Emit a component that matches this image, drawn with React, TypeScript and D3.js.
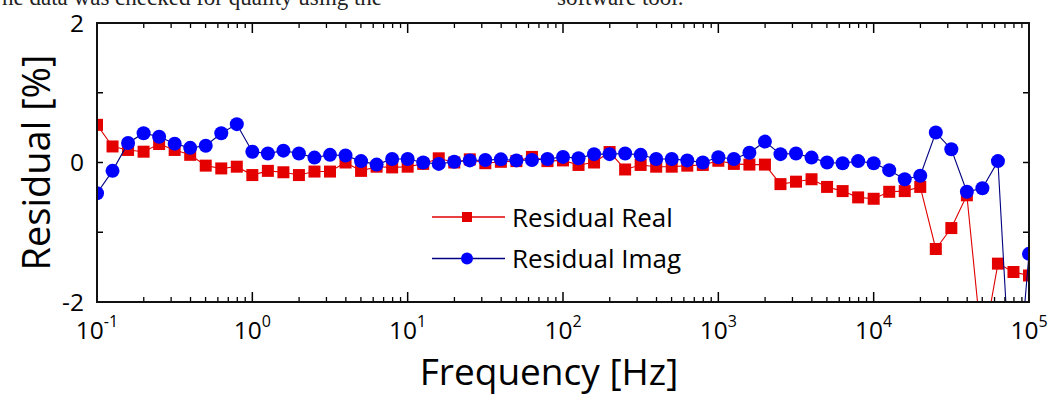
import React from "react";
import * as d3 from "d3";

const frequencies: number[] = [
  0.1, 0.1259, 0.1585, 0.1995, 0.2512, 0.3162, 0.3981, 0.5012, 0.631, 0.7943,
  1, 1.259, 1.585, 1.995, 2.512, 3.162, 3.981, 5.012, 6.31, 7.943,
  10, 12.59, 15.85, 19.95, 25.12, 31.62, 39.81, 50.12, 63.1, 79.43,
  100, 125.9, 158.5, 199.5, 251.2, 316.2, 398.1, 501.2, 631, 794.3,
  1000, 1259, 1585, 1995, 2512, 3162, 3981, 5012, 6310, 7943,
  10000, 12590, 15850, 19950, 25120, 31620, 39810, 50120, 63100, 79430,
  100000,
];

const residualReal: number[] = [
  0.54, 0.23, 0.18, 0.155, 0.265, 0.18, 0.11, -0.045, -0.085, -0.06,
  -0.18, -0.12, -0.14, -0.18, -0.13, -0.13, 0.0, -0.12, -0.06, -0.07,
  -0.06, -0.02, 0.06, 0.0, 0.045, -0.01, 0.01, 0.02, 0.08, 0.02,
  0.03, -0.035, 0.0, 0.15, -0.1, -0.035, -0.06, -0.06, -0.045, -0.035,
  0.025, -0.02, -0.03, -0.03, -0.31, -0.275, -0.24, -0.35, -0.41, -0.5,
  -0.52, -0.42, -0.41, -0.35, -1.24, -0.94, -0.47, -2.7, -1.45, -1.57,
  -1.62,
];

const residualImag: number[] = [
  -0.44, -0.12, 0.28, 0.42, 0.37, 0.27, 0.21, 0.24, 0.42, 0.55,
  0.155, 0.13, 0.17, 0.13, 0.07, 0.11, 0.1, 0.02, -0.03, 0.05,
  0.05, 0.0, -0.02, 0.01, 0.03, 0.035, 0.045, 0.03, 0.035, 0.05,
  0.08, 0.06, 0.12, 0.12, 0.13, 0.11, 0.05, 0.05, 0.03, 0.0,
  0.075, 0.05, 0.14, 0.3, 0.12, 0.13, 0.07, 0.0, -0.01, 0.02,
  -0.01, -0.11, -0.24, -0.19, 0.43, 0.19, -0.42, -0.37, 0.02, -3.95,
  -1.31,
];

const xDecadeExps: number[] = [-1, 0, 1, 2, 3, 4, 5];
const yLabelTicks: number[] = [-2, 0, 2];
const yMinorTicks: number[] = [-1, 0, 1];
const seriesNames: string[] = ["Residual Real", "Residual Imag"];

const W = 1052;
const H = 396;
const L = 97;
const R = 1029;
const T = 23;
const B = 302;

const FONT = "'Open Sans', 'Noto Sans', sans-serif";

export default function App() {
  const x = d3.scaleLog().domain([0.1, 100000]).range([L, R]);
  const y = d3.scaleLinear().domain([-2, 2]).range([B, T]);

  const realPts = frequencies.map((f, i) => [x(f), y(residualReal[i])] as [number, number]);
  const imagPts = frequencies.map((f, i) => [x(f), y(residualImag[i])] as [number, number]);
  const line = d3.line();

  const minorTicks: number[] = [];
  for (let e = -1; e < 5; e++) {
    for (let k = 2; k <= 9; k++) minorTicks.push(k * Math.pow(10, e));
  }

  return (
    <svg
      width={W}
      height={H}
      style={{ position: "absolute", left: 0, top: 0, background: "#fff" }}
    >
      <defs>
        <clipPath id="plot">
          <rect x={L} y={T} width={R - L} height={B - T} />
        </clipPath>
      </defs>
      <rect x={0} y={0} width={W} height={H} fill="#fff" />

      {/* cut-off caption line at the top */}
      <text x={-12} y={5} fontFamily="'Liberation Serif', 'DejaVu Serif', serif" fontSize={23} fill="#222">
        The data was checked for quality using the
      </text>
      <text x={557} y={5} fontFamily="'Liberation Serif', 'DejaVu Serif', serif" fontSize={23} fill="#222">
        software tool.
      </text>

      {/* data */}
      <g clipPath="url(#plot)">
        <path d={line(realPts) || ""} fill="none" stroke="#e00000" strokeWidth={1.1} />
        {realPts.map((p, i) => (
          <rect key={"r" + i} x={p[0] - 6} y={p[1] - 6} width={12} height={12} fill="#e50000" />
        ))}
        <path d={line(imagPts) || ""} fill="none" stroke="#000080" strokeWidth={1.1} />
        {imagPts.map((p, i) => (
          <circle key={"b" + i} cx={p[0]} cy={p[1]} r={7} fill="#0000ff" />
        ))}
      </g>

      {/* x ticks */}
      {xDecadeExps.map((e) => {
        const xv = x(Math.pow(10, e));
        return (
          <g key={"xd" + e}>
            <line x1={xv} x2={xv} y1={B} y2={B - 10} stroke="#000" strokeWidth={1.5} />
            <line x1={xv} x2={xv} y1={T} y2={T + 10} stroke="#000" strokeWidth={1.5} />
            <text
              x={xv}
              y={339}
              textAnchor="middle"
              fontFamily={FONT}
              fontSize={24.5}
              fill="#000"
            >
              10
              <tspan fontSize={16} dy={-12}>{String(e)}</tspan>
            </text>
          </g>
        );
      })}
      {minorTicks.map((f, i) => {
        const xv = x(f);
        return (
          <g key={"xm" + i}>
            <line x1={xv} x2={xv} y1={B} y2={B - 5} stroke="#000" strokeWidth={1.3} />
            <line x1={xv} x2={xv} y1={T} y2={T + 5} stroke="#000" strokeWidth={1.3} />
          </g>
        );
      })}

      {/* y ticks */}
      {yMinorTicks.map((v) => (
        <g key={"ym" + v}>
          <line x1={L} x2={L + 6} y1={y(v)} y2={y(v)} stroke="#000" strokeWidth={1.5} />
          <line x1={R} x2={R - 6} y1={y(v)} y2={y(v)} stroke="#000" strokeWidth={1.5} />
        </g>
      ))}
      {yLabelTicks.map((v) => (
        <text
          key={"yl" + v}
          x={84}
          y={y(v) + 8.5}
          textAnchor="end"
          fontFamily={FONT}
          fontSize={24.5}
          fill="#000"
        >
          {v < 0 ? "-" + Math.abs(v) : String(v)}
        </text>
      ))}

      {/* frame */}
      <rect x={L} y={T} width={R - L} height={B - T} fill="none" stroke="#111" strokeWidth={2} />

      {/* axis titles */}
      <text x={549} y={385} textAnchor="middle" fontFamily={FONT} fontSize={37} fill="#000">
        Frequency [Hz]
      </text>
      <text
        transform={`translate(50, ${(T + B) / 2}) rotate(-90)`}
        textAnchor="middle"
        fontFamily={FONT}
        fontSize={38}
        fill="#000"
      >
        Residual [%]
      </text>

      {/* legend */}
      <g>
        <line x1={432} x2={505} y1={217} y2={217} stroke="#e00000" strokeWidth={1.3} />
        <rect x={462} y={212} width={10} height={10} fill="#e50000" />
        <text x={512} y={226.5} fontFamily={FONT} fontSize={26} fill="#000">
          {seriesNames[0]}
        </text>
        <line x1={432} x2={505} y1={258.5} y2={258.5} stroke="#000080" strokeWidth={1.3} />
        <circle cx={467} cy={258.5} r={6} fill="#0000ff" />
        <text x={512} y={268} fontFamily={FONT} fontSize={26} fill="#000">
          {seriesNames[1]}
        </text>
      </g>
    </svg>
  );
}
